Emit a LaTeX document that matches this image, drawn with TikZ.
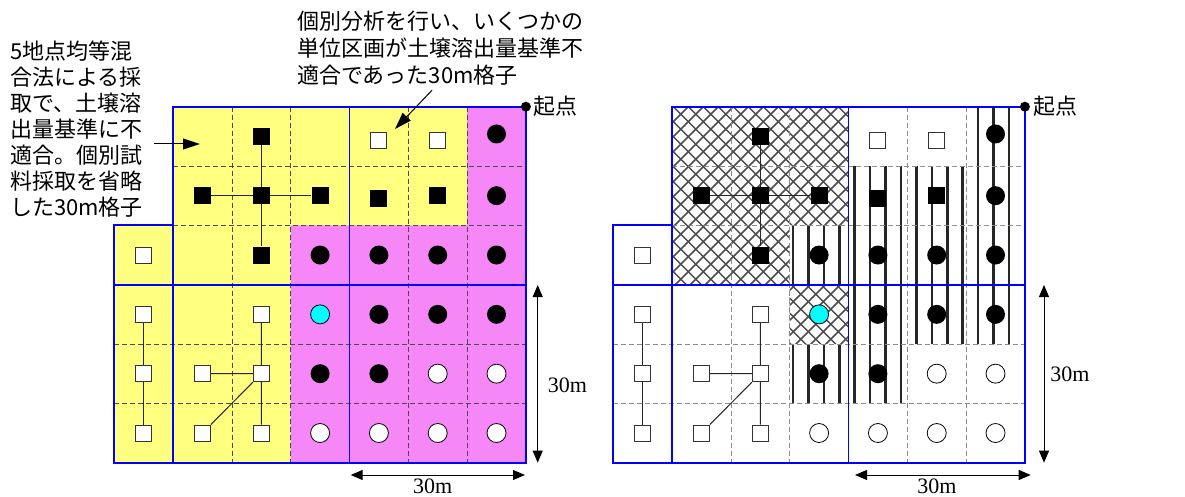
\documentclass[tikz,border=0pt]{standalone}
\usepackage{fontspec}
\setmainfont{Liberation Serif}
\newfontfamily\jp{Noto Sans CJK JP}
\usetikzlibrary{arrows.meta}
\definecolor{lyellow}{RGB}{255,255,128}
\definecolor{lpink}{RGB}{246,135,246}
\definecolor{gblue}{RGB}{0,0,255}
\definecolor{bcyan}{RGB}{0,255,255}
\tikzset{
  bline/.style={draw=gblue, line width=1.8pt},
  dline/.style={draw=black!70, line width=0.7pt, dash pattern=on 5pt off 3pt},
  dlineR/.style={draw=black!45, line width=0.7pt, dash pattern=on 5pt off 3pt},
  wsq/.style={rectangle, draw=black!80, fill=white, line width=1pt, minimum size=16pt, inner sep=0pt},
  bsq/.style={rectangle, fill=black, minimum size=17pt, inner sep=0pt},
  bci/.style={circle, fill=black, minimum size=19pt, inner sep=0pt},
  wci/.style={circle, draw=black, fill=white, line width=0.8pt, minimum size=19pt, inner sep=0pt},
  cci/.style={circle, draw=black, fill=bcyan, line width=0.8pt, minimum size=19pt, inner sep=0pt},
  conn/.style={draw=black!85, line width=1pt},
  stripe/.style={draw=black!85, line width=2.6pt},
  hatch/.style={draw=black!70, line width=1.5pt},
  dimarr/.style={line width=1pt, {Triangle[length=12pt,width=10pt]}-{Triangle[length=12pt,width=10pt]}},
  lblarr/.style={line width=1pt, -{Triangle[length=17pt,width=11pt]}},
  jptext/.style={font=\jp\fontsize{22}{26}\selectfont, align=left, inner sep=0pt, anchor=north west},
  jplab/.style={font=\jp\fontsize{22}{26}\selectfont, inner sep=0pt, anchor=west},
  dimtext/.style={font=\fontsize{22}{26}\selectfont, inner sep=0pt},
  dotst/.style={circle, fill=black, minimum size=10pt, inner sep=0pt},
}
\newcommand\gridmarkers[1]{%
  \node[bsq] (#1c20) at (2.5,0.5) {};
  \node[wsq] (#1c40) at (4.5,0.57) {};
  \node[wsq] (#1c50) at (5.5,0.57) {};
  \node[bci] (#1c60) at (6.5,0.46) {};
  \node[bsq] (#1c11) at (1.5,1.5) {};
  \node[bsq] (#1c21) at (2.5,1.5) {};
  \node[bsq] (#1c31) at (3.5,1.5) {};
  \node[bsq] (#1c41) at (4.5,1.55) {};
  \node[bsq] (#1c51) at (5.5,1.5) {};
  \node[bci] (#1c61) at (6.5,1.5) {};
  \node[wsq] (#1c02) at (0.5,2.5) {};
  \node[bsq] (#1c22) at (2.5,2.5) {};
  \node[bci] (#1c32) at (3.5,2.5) {};
  \node[bci] (#1c42) at (4.5,2.5) {};
  \node[bci] (#1c52) at (5.5,2.5) {};
  \node[bci] (#1c62) at (6.5,2.5) {};
  \node[wsq] (#1c03) at (0.5,3.5) {};
  \node[wsq] (#1c23) at (2.5,3.5) {};
  \node[cci] (#1c33) at (3.5,3.5) {};
  \node[bci] (#1c43) at (4.5,3.5) {};
  \node[bci] (#1c53) at (5.5,3.5) {};
  \node[bci] (#1c63) at (6.5,3.5) {};
  \node[wsq] (#1c04) at (0.5,4.5) {};
  \node[wsq] (#1c14) at (1.5,4.5) {};
  \node[wsq] (#1c24) at (2.5,4.5) {};
  \node[bci] (#1c34) at (3.5,4.5) {};
  \node[bci] (#1c44) at (4.5,4.5) {};
  \node[wci] (#1c54) at (5.5,4.5) {};
  \node[wci] (#1c64) at (6.5,4.5) {};
  \node[wsq] (#1c05) at (0.5,5.5) {};
  \node[wsq] (#1c15) at (1.5,5.5) {};
  \node[wsq] (#1c25) at (2.5,5.5) {};
  \node[wci] (#1c35) at (3.5,5.5) {};
  \node[wci] (#1c45) at (4.5,5.5) {};
  \node[wci] (#1c55) at (5.5,5.5) {};
  \node[wci] (#1c65) at (6.5,5.5) {};
  \draw[conn] (#1c20) -- (#1c21) (#1c21) -- (#1c22) (#1c11) -- (#1c21) (#1c21) -- (#1c31);
  \draw[conn] (#1c03) -- (#1c04) (#1c04) -- (#1c05);
  \draw[conn] (#1c23) -- (#1c24) (#1c24) -- (#1c25) (#1c14) -- (#1c24) (#1c15) -- (#1c24);
}
\newcommand\bluegrid{%
  \draw[bline] (1,0) -- (7,0) -- (7,6) -- (0,6) -- (0,2) -- (1,2) -- cycle;
  \draw[bline] (1,0) -- (1,6) (4,0) -- (4,6) (0,3) -- (7,3);
}
\begin{document}
\begin{tikzpicture}[x=1pt, y=-1pt]
\useasboundingbox (0,0) rectangle (1185,497);

% ---------- left grid ----------
\begin{scope}[shift={(114.3pt,-106.7pt)}, x=58.8pt, y=-59.33pt]
  \fill[lyellow] (0,2) rectangle (3,6) (1,0) rectangle (6,2);
  \fill[lpink] (3,2) rectangle (7,6) (6,0) rectangle (7,2);
  \draw[dline] (2,0) -- (2,6) (3,0) -- (3,6) (5,0) -- (5,6) (6,0) -- (6,6)
               (1,1) -- (7,1) (1,2) -- (7,2) (0,4) -- (7,4) (0,5) -- (7,5);
  \bluegrid
  \gridmarkers{L}
  \node[dotst] (Ldot) at (7,0) {};
  \node[jplab] (Lkiten) at ([xshift=2pt]Ldot.east) {起点};
\end{scope}

% ---------- right grid ----------
\begin{scope}[shift={(613.3pt,-106.7pt)}, x=58.8pt, y=-59.33pt]
  \begin{scope}
    \clip (1,0) -- (4,0) -- (4,2) -- (3,2) -- (3,3) -- (1,3) -- cycle (3,3) rectangle (4,4);
    \foreach \t in {-210,-195,...,480} {
      \draw[hatch] (\t pt,0pt) -- ++(450pt,-450pt);
      \draw[hatch] (\t pt,0pt) -- ++(-450pt,-450pt);
    }
  \end{scope}
  \begin{scope}
    \clip (6,0) rectangle (7,1) (4,1) rectangle (7,4) (3,2) rectangle (4,3) (3,4) rectangle (5,5);
    \foreach \k in {0,...,14} {
      \pgfmathsetmacro\sx{179.7+\k*15.43}
      \draw[stripe] (\sx pt,0pt) -- ++(0pt,-360pt);
    }
  \end{scope}
  \draw[dlineR] (2,0) -- (2,6) (3,0) -- (3,6) (5,0) -- (5,6) (6,0) -- (6,6)
                (1,1) -- (7,1) (1,2) -- (7,2) (0,4) -- (7,4) (0,5) -- (7,5);
  \bluegrid
  \gridmarkers{R}
  \node[dotst] (Rdot) at (7,0) {};
  \node[jplab] (Rkiten) at ([xshift=2.7pt]Rdot.east) {起点};
\end{scope}

% ---------- labels ----------
\node[jptext] (lbl1) at (10,41) {5地点均等混\\合法による採\\取で、土壌溶\\出量基準に不\\適合。個別試\\料採取を省略\\した30m格子};
\node[jptext, font=\jp\fontsize{22}{27}\selectfont] (lbl2) at (297,10.5) {個別分析を行い、いくつかの\\単位区画が土壌溶出量基準不\\適合であった30m格子};
\coordinate (a1) at (200,144);
\draw[lblarr] ([xshift=11pt]lbl1.east |- a1) -- (a1);
\coordinate (a2) at (395,129);
\draw[lblarr] ([xshift=135pt,yshift=-5pt]lbl2.south west) -- (a2);

% ---------- dimensions ----------
\coordinate (Lv1) at (537.7,285);
\coordinate (Lv2) at (537.7,462.7);
\draw[dimarr] (Lv1) -- (Lv2);
\node[dimtext] (Lvlab) at (567.5,385.5) {30m};
\coordinate (Lh1) at (350.7,475);
\coordinate (Lh2) at (525,475);
\draw[dimarr] (Lh1) -- (Lh2);
\node[dimtext] (Lhlab) at (432.7,486.5) {30m};
\coordinate (Rv1) at (1044,285);
\coordinate (Rv2) at (1044,462.7);
\draw[dimarr] (Rv1) -- (Rv2);
\node[dimtext] (Rvlab) at (1070,374) {30m};
\coordinate (Rh1) at (855,475);
\coordinate (Rh2) at (1030.7,475);
\draw[dimarr] (Rh1) -- (Rh2);
\node[dimtext] (Rhlab) at (937,486) {30m};
\end{tikzpicture}
\end{document}
